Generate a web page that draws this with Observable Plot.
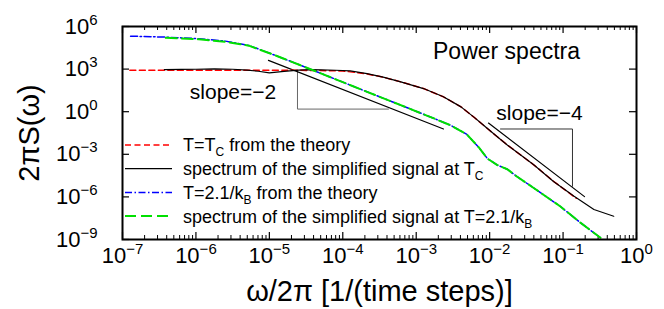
<!DOCTYPE html>
<html><head><meta charset="utf-8">
<script src="https://cdn.jsdelivr.net/npm/d3@7"></script>
<script src="https://cdn.jsdelivr.net/npm/@observablehq/plot@0.6"></script>
<style>
body{margin:0;background:#fff}
svg{font-family:"Liberation Sans",Arial,Helvetica,sans-serif}
</style>
</head><body><div id="chart"></div>
<script>
// ---- data (log10 exponents) ----
const theoryTcLogF = [-6.9,-6.5,-6.0,-5.5,-5.0,-4.5,-4.0,-3.67,-3.45,-3.21,-2.9,-2.63,-2.39,-2.21,-2.05,-1.9,-1.76,-1.40,-1.13,-0.82];
const theoryTcLogS = [2.92,2.92,2.92,2.92,2.92,2.91,2.87,2.66,2.43,2.10,1.63,1.05,0.34,-0.40,-1.10,-1.75,-2.34,-3.74,-4.90,-6.10];

const simTcLogF = [-6.43,-6.2,-6.0,-5.75,-5.5,-5.3,-5.15,-5.0,-4.8,-4.6,-4.45,-4.3,-4.1,-3.9,-3.67,-3.45,-3.21,-2.9,-2.63,-2.39,-2.21,-2.05,-1.9,-1.76,-1.40,-1.13,-0.85,-0.58,-0.31];
const simTcLogS = [2.97,2.98,2.99,3.01,2.99,2.93,2.85,2.74,2.84,2.93,2.96,2.95,2.92,2.88,2.68,2.43,2.10,1.63,1.05,0.34,-0.40,-1.10,-1.75,-2.34,-3.74,-4.91,-5.96,-6.89,-7.36];

const theory21LogF = [-6.89,-6.41,-5.96,-5.6,-5.28,-4.92,-4.576,-4.12,-3.67,-3.21,-2.76,-2.53,-2.31,-2.15,-2.03,-1.9,-1.76,-1.63,-1.40,-1.04,-0.76,-0.49];
const theory21LogS = [5.32,5.25,5.14,4.97,4.67,3.97,3.27,2.33,1.40,0.46,-0.47,-0.96,-1.6,-2.5,-3.3,-3.75,-4.05,-4.56,-5.37,-6.66,-7.83,-8.88];

const sim21LogF = [-6.41,-5.96,-5.6,-5.28,-4.92,-4.576,-4.12,-3.67,-3.21,-2.76,-2.53,-2.31,-2.15,-2.03,-1.9,-1.76,-1.63,-1.40,-1.04,-0.76,-0.49];
const sim21LogS = [5.20,5.10,4.93,4.65,3.97,3.27,2.33,1.40,0.46,-0.47,-0.96,-1.6,-2.5,-3.3,-3.75,-4.05,-4.56,-5.37,-6.66,-7.83,-8.88];

const slope2LineLogF = [-5.012,-2.628];
const slope2LineLogS = [3.617,-1.218];
const slope2TriLogF = [-4.617,-4.617,-3.378];
const slope2TriLogS = [2.917,0.184,0.184];
const slope4LineLogF = [-2.016,-0.708];
const slope4LineLogS = [-0.797,-5.98];
const slope4TriLogF = [-1.852,-0.872,-0.872];
const slope4TriLogS = [-1.218,-1.218,-5.25];

const notes = [
  {text:"Power spectra", logF:-1.77, logS:4.25, size:23},
  {text:"slope=\u22122", logF:-5.495, logS:1.375, size:21},
  {text:"slope=\u22124", logF:-1.321, logS:-0.097, size:21}
];

const xMajor = [1e-7,1e-6,1e-5,1e-4,1e-3,1e-2,1e-1,1];
const xTickLabels = ["10^\u22127","10^\u22126","10^\u22125","10^\u22124","10^\u22123","10^\u22122","10^\u22121","10^0"];
const yMajor = [1e-9,1e-6,1e-3,1,1e3,1e6];
const yTickLabels = ["10^\u22129","10^\u22126","10^\u22123","10^0","10^3","10^6"];
const xMinor = [];
for (let d = -7; d < 0; d++) for (let k = 2; k <= 9; k++) xMinor.push(k * Math.pow(10, d));

const legendEntries = [
  {parts:[["T=T"],["C","sub"],[" from the theory"]], color:"#ff0000", width:1.5, dash:"6,3.5"},
  {parts:[["spectrum of the simplified signal at T"],["C","sub"]], color:"#000000", width:1.2, dash:null},
  {parts:[["T=2.1/k"],["B","sub"],[" from the theory"]], color:"#0000ff", width:1.5, dash:"7,2.5,1.5,2.5"},
  {parts:[["spectrum of the simplified signal at T=2.1/k"],["B","sub"]], color:"#00e000", width:2, dash:"11,5"}
];

const xTitle = "\u03c9/2\u03c0 [1/(time steps)]";
const yTitle = "2\u03c0S(\u03c9)";

// ---- tables ----
const toRows = (lf, ls) => lf.map((f, i) => ({f: 10 ** f, s: 10 ** ls[i]}));
const theoryTc = toRows(theoryTcLogF, theoryTcLogS);
const simTc = toRows(simTcLogF, simTcLogS);
const theory21 = toRows(theory21LogF, theory21LogS);
const sim21 = toRows(sim21LogF, sim21LogS);

const mL = 122, mR = 28, mT = 26, mB = 70, W = 664, H = 309;
const pw = W - mL - mR, ph = H - mT - mB;

function legendMark(index, scales, values, dims) {
  const g = d3.create("svg:g").attr("text-anchor", "start");
  legendEntries.forEach((e, i) => {
    const y = dims.marginTop + 119 + i * 23.7;
    const ln = g.append("line")
      .attr("x1", dims.marginLeft + 3).attr("x2", dims.marginLeft + 50)
      .attr("y1", y).attr("y2", y)
      .attr("stroke", e.color).attr("stroke-width", e.width);
    if (e.dash) ln.attr("stroke-dasharray", e.dash);
    const t = g.append("text").attr("x", dims.marginLeft + 61).attr("y", y)
      .attr("dy", "0.36em").attr("font-size", 18).attr("fill", "black")
      .attr("text-anchor", "start");
    let shifted = false;
    e.parts.forEach(([s, kind]) => {
      const ts = t.append("tspan").text(s);
      if (kind === "sub") { ts.attr("font-size", 12).attr("dy", 5); shifted = true; }
      else if (shifted) { ts.attr("dy", -5); shifted = false; }
    });
  });
  return g.node();
}

const line = (rows, o) => Plot.line(rows, {x: "f", y: "s", clip: true, strokeLinejoin: "round", ...o});

const chart = Plot.plot({
  width: W, height: H,
  marginLeft: mL, marginRight: mR, marginTop: mT, marginBottom: mB,
  x: {type: "log", domain: [1e-7, 1], axis: null},
  y: {type: "log", domain: [1e-9, 1e6], axis: null},
  style: {background: "white", fontFamily: "'Liberation Sans', Arial, Helvetica, sans-serif", color: "black", overflow: "visible"},
  marks: [
    // inward ticks on all four sides
    Plot.ruleX(xMajor, {x: d => d, insetTop: ph - 7, stroke: "black", strokeWidth: 1.2}),
    Plot.ruleX(xMajor, {x: d => d, insetBottom: ph - 7, stroke: "black", strokeWidth: 1.2}),
    Plot.ruleX(xMinor, {x: d => d, insetTop: ph - 4, stroke: "black", strokeWidth: 1}),
    Plot.ruleX(xMinor, {x: d => d, insetBottom: ph - 4, stroke: "black", strokeWidth: 1}),
    Plot.ruleY(yMajor, {y: d => d, insetRight: pw - 7, stroke: "black", strokeWidth: 1.2}),
    Plot.ruleY(yMajor, {y: d => d, insetLeft: pw - 7, stroke: "black", strokeWidth: 1.2}),
    // slope guides
    Plot.line(toRows(slope2TriLogF, slope2TriLogS), {x: "f", y: "s", stroke: "#666", strokeWidth: 1}),
    Plot.line(toRows(slope4TriLogF, slope4TriLogS), {x: "f", y: "s", stroke: "#333", strokeWidth: 1}),
    Plot.line(toRows(slope2LineLogF, slope2LineLogS), {x: "f", y: "s", stroke: "black", strokeWidth: 1.2}),
    Plot.line(toRows(slope4LineLogF, slope4LineLogS), {x: "f", y: "s", stroke: "black", strokeWidth: 1.2}),
    // curves
    line(theoryTc, {stroke: "#ff0000", strokeWidth: 1.5, strokeDasharray: "6,3.5"}),
    line(simTc, {stroke: "black", strokeWidth: 1.2}),
    line(theory21, {stroke: "#0000ff", strokeWidth: 1.5, strokeDasharray: "7,2.5,1.5,2.5"}),
    line(sim21, {stroke: "#00e000", strokeWidth: 2, strokeDasharray: "11,5"}),
    // frame
    Plot.frame({stroke: "black", strokeWidth: 2}),
    // annotations
    Plot.text(notes, {x: d => 10 ** d.logF, y: d => 10 ** d.logS, text: "text", fontSize: d => d.size, fill: "black"}),
    // tick labels
    Plot.text(xMajor, {x: d => d, text: (d, i) => xTickLabels[i], frameAnchor: "bottom", lineAnchor: "middle", dy: 16, fontSize: 22, fill: "black"}),
    Plot.text(yMajor, {y: d => d, text: (d, i) => yTickLabels[i], frameAnchor: "left", lineAnchor: "middle", dx: -25, textAnchor: "end", fontSize: 22, fill: "black"}),
    // axis titles
    Plot.text([xTitle], {text: d => d, frameAnchor: "bottom", lineAnchor: "middle", dy: 52, fontSize: 29, fill: "black"}),
    Plot.text([yTitle], {text: d => d, frameAnchor: "left", lineAnchor: "middle", textAnchor: "middle", dx: -93, rotate: -90, fontSize: 29, fill: "black"}),
    legendMark
  ]
});

// superscripts for "10^n" tick labels
d3.select(chart).selectAll("text").each(function () {
  const s = this.textContent;
  const m = /^10\^(.+)$/.exec(s);
  if (!m) return;
  this.textContent = "";
  const t = d3.select(this);
  t.append("tspan").text("10");
  t.append("tspan").text(m[1]).attr("font-size", 15).attr("dy", -9);
});

document.getElementById("chart").appendChild(chart);
</script>
</body></html>
